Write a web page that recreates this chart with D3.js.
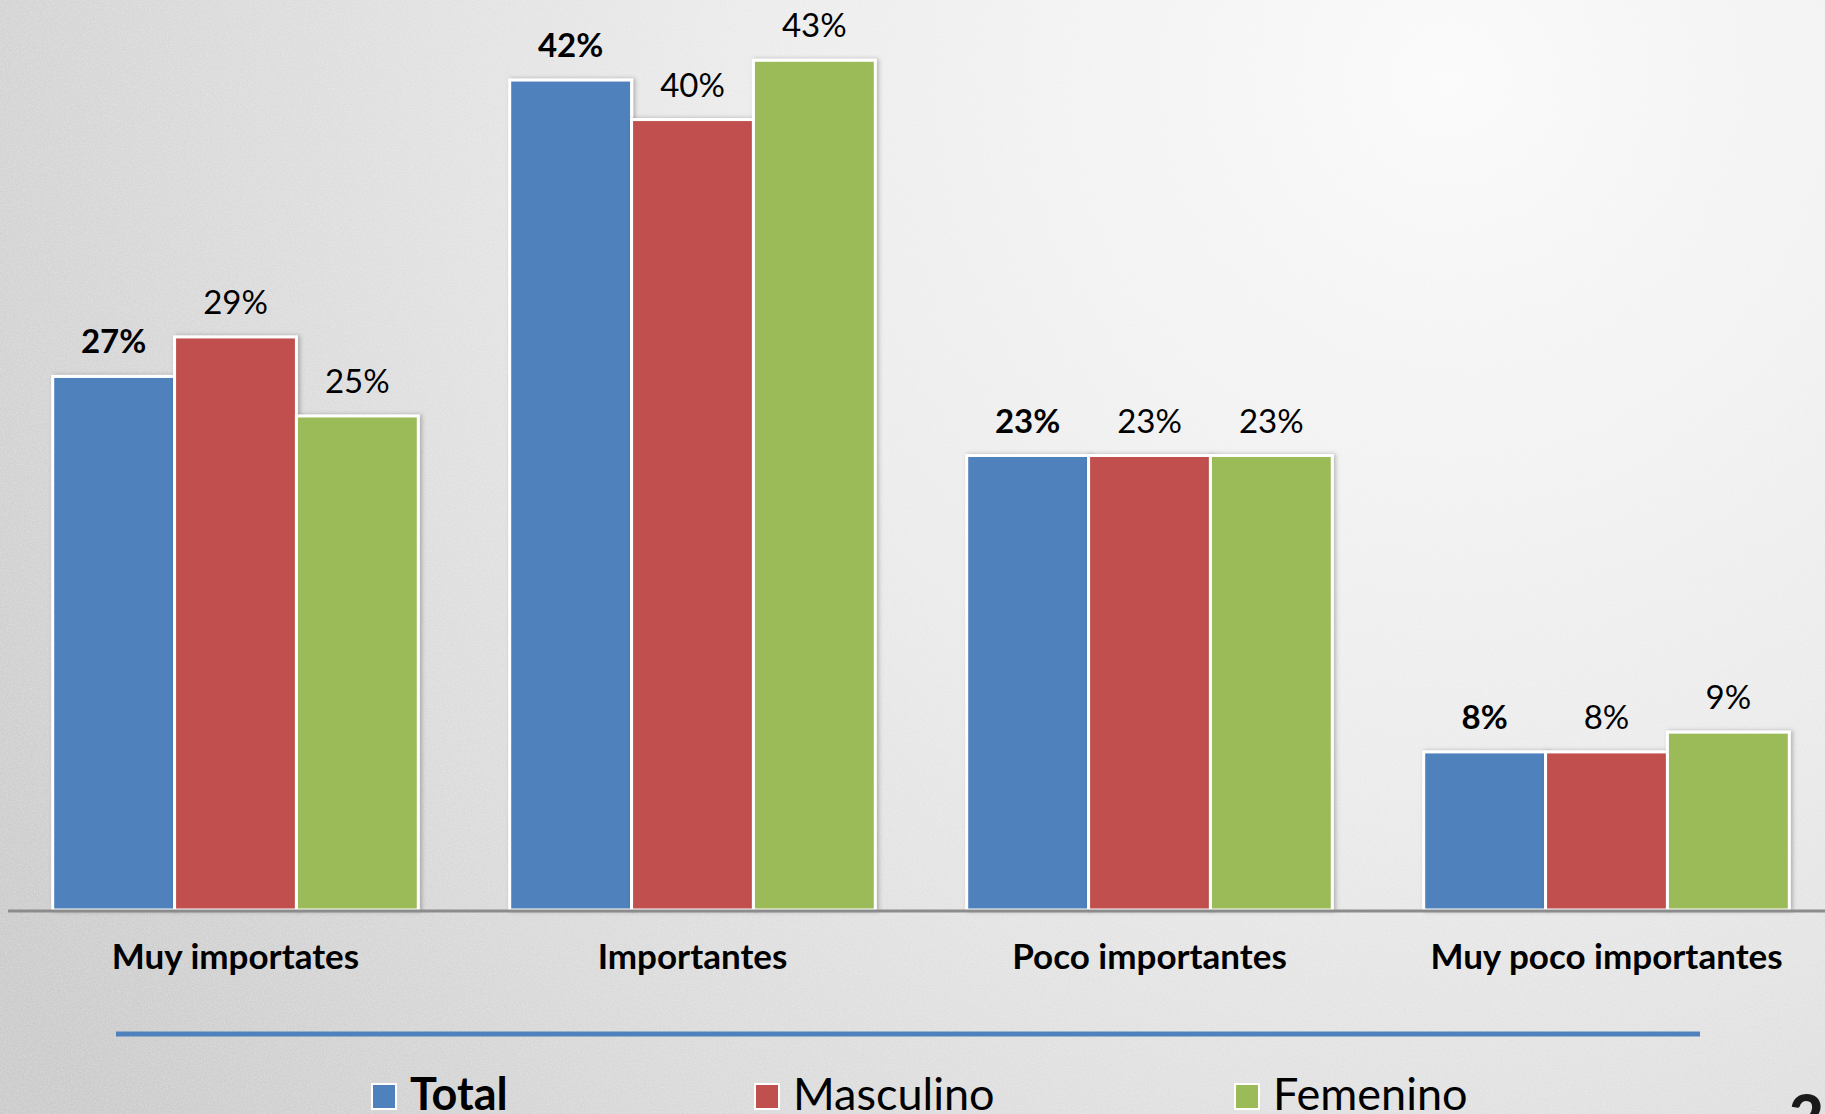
<!DOCTYPE html>
<html>
<head>
<meta charset="utf-8">
<script src="https://cdn.jsdelivr.net/npm/d3@7"></script>
<style>
  html, body { margin: 0; padding: 0; overflow: hidden; }
  svg { display: block; }
</style>
</head>
<body>
<svg width="1825" height="1114"></svg>
<script>
// data
var categories = ["Muy importates", "Importantes", "Poco importantes", "Muy poco importantes"];
var seriesNames = ["Total", "Masculino", "Femenino"];
var total = [27, 42, 23, 8];
var masculino = [29, 40, 23, 8];
var femenino = [25, 43, 23, 9];
var colors = ["#4F81BD", "#C0504D", "#9BBB59"];

var values = [total, masculino, femenino];

var svg = d3.select("svg");
var width = +svg.attr("width");
var height = +svg.attr("height");
var baseY = 910;

var defs = svg.append("defs");

// light spot top-right, darker toward left and bottom
var grad = defs.append("radialGradient")
    .attr("id", "bg")
    .attr("gradientUnits", "userSpaceOnUse")
    .attr("cx", 1450).attr("cy", 80).attr("r", 1700);
grad.append("stop").attr("offset", "0%").attr("stop-color", "#fafafa");
grad.append("stop").attr("offset", "40%").attr("stop-color", "#ececec");
grad.append("stop").attr("offset", "75%").attr("stop-color", "#d9d9d9");
grad.append("stop").attr("offset", "100%").attr("stop-color", "#cbcbcb");

var noise = defs.append("filter").attr("id", "noise")
    .attr("x", 0).attr("y", 0).attr("width", "100%").attr("height", "100%");
noise.append("feTurbulence")
    .attr("type", "fractalNoise").attr("baseFrequency", 0.7).attr("numOctaves", 2).attr("seed", 3);
noise.append("feColorMatrix")
    .attr("type", "matrix")
    .attr("values", "0 0 0 0 1  0 0 0 0 1  0 0 0 0 1  0 0 0 0.7 -0.25");

var shadow = defs.append("filter").attr("id", "shadow")
    .attr("x", "-10%").attr("y", "-10%").attr("width", "130%").attr("height", "120%");
shadow.append("feDropShadow")
    .attr("dx", 2).attr("dy", 0).attr("stdDeviation", 2)
    .attr("flood-color", "#000").attr("flood-opacity", 0.25);

// background
svg.append("rect").attr("width", width).attr("height", height).attr("fill", "url(#bg)");
svg.append("rect").attr("width", width).attr("height", height)
    .attr("filter", "url(#noise)").attr("opacity", 0.7);

var x0 = d3.scaleBand()
    .domain(categories)
    .range([7, 1835])
    .paddingInner(0.2)
    .paddingOuter(0.1);

var x1 = d3.scaleBand()
    .domain(seriesNames)
    .range([0, x0.bandwidth()]);

var y = d3.scaleLinear()
    .domain([0, 46])
    .range([baseY, 1]);

var rows = [];
categories.forEach(function(c, i) {
    seriesNames.forEach(function(s, j) {
        rows.push({cat: c, series: s, value: values[j][i], color: colors[j]});
    });
});

var bars = svg.append("g").attr("class", "bars");

bars.selectAll("rect")
    .data(rows)
    .enter().append("rect")
    .attr("x", function(d) { return x0(d.cat) + x1(d.series); })
    .attr("y", function(d) { return y(d.value); })
    .attr("width", x1.bandwidth())
    .attr("height", function(d) { return baseY - y(d.value); })
    .attr("fill", function(d) { return d.color; })
    .attr("stroke", "#fff")
    .attr("stroke-width", 3)
    .attr("filter", "url(#shadow)");

// value labels
svg.append("g").attr("class", "labels")
    .selectAll("text")
    .data(rows)
    .enter().append("text")
    .attr("x", function(d) { return x0(d.cat) + x1(d.series) + x1.bandwidth() / 2; })
    .attr("y", function(d) { return y(d.value) - 23; })
    .attr("text-anchor", "middle")
    .style("font-family", "Lato, 'Open Sans', sans-serif")
    .style("font-size", "33px")
    .style("font-weight", function(d) { return d.series === "Total" ? "bold" : "normal"; })
    .attr("fill", "#000")
    .text(function(d) { return d.value + "%"; });

// axis
var xAxis = svg.append("g")
    .attr("transform", "translate(0," + baseY + ")")
    .call(d3.axisBottom(x0).tickSize(0).tickPadding(0));
xAxis.select(".domain").remove();
xAxis.selectAll("text")
    .attr("y", 59)
    .attr("dy", 0)
    .attr("fill", "#000")
    .style("font-family", "Lato, 'Open Sans', sans-serif")
    .style("font-size", "35px")
    .style("font-weight", "bold");

svg.append("line")
    .attr("x1", 8).attr("x2", width)
    .attr("y1", baseY + 1).attr("y2", baseY + 1)
    .attr("stroke", "#8c8c8c")
    .attr("stroke-width", 3);

// blue separator line
svg.append("line")
    .attr("x1", 116).attr("x2", 1700)
    .attr("y1", 1034).attr("y2", 1034)
    .attr("stroke", "#4F81BD")
    .attr("stroke-width", 5);

// legend
var legendX = [372, 755, 1235];
var legend = svg.append("g").attr("class", "legend")
    .selectAll("g")
    .data(seriesNames)
    .enter().append("g")
    .attr("transform", function(d, i) { return "translate(" + legendX[i] + ",0)"; });

legend.append("rect")
    .attr("x", 0).attr("y", 1084)
    .attr("width", 24).attr("height", 25)
    .attr("fill", function(d, i) { return colors[i]; })
    .attr("stroke", "#fff")
    .attr("stroke-width", 2);

legend.append("text")
    .attr("x", 38).attr("y", 1110)
    .style("font-family", "Lato, 'Open Sans', sans-serif")
    .style("font-size", "45px")
    .style("font-weight", function(d) { return d === "Total" ? "bold" : "normal"; })
    .attr("fill", "#000")
    .text(function(d) { return d; });

// page number peeking in the corner
svg.append("text")
    .attr("x", 1789).attr("y", 1138)
    .style("font-family", "Lato, sans-serif")
    .style("font-size", "60px")
    .style("font-weight", "900")
    .attr("fill", "#1a1a1a")
    .text("20");
</script>
</body>
</html>
